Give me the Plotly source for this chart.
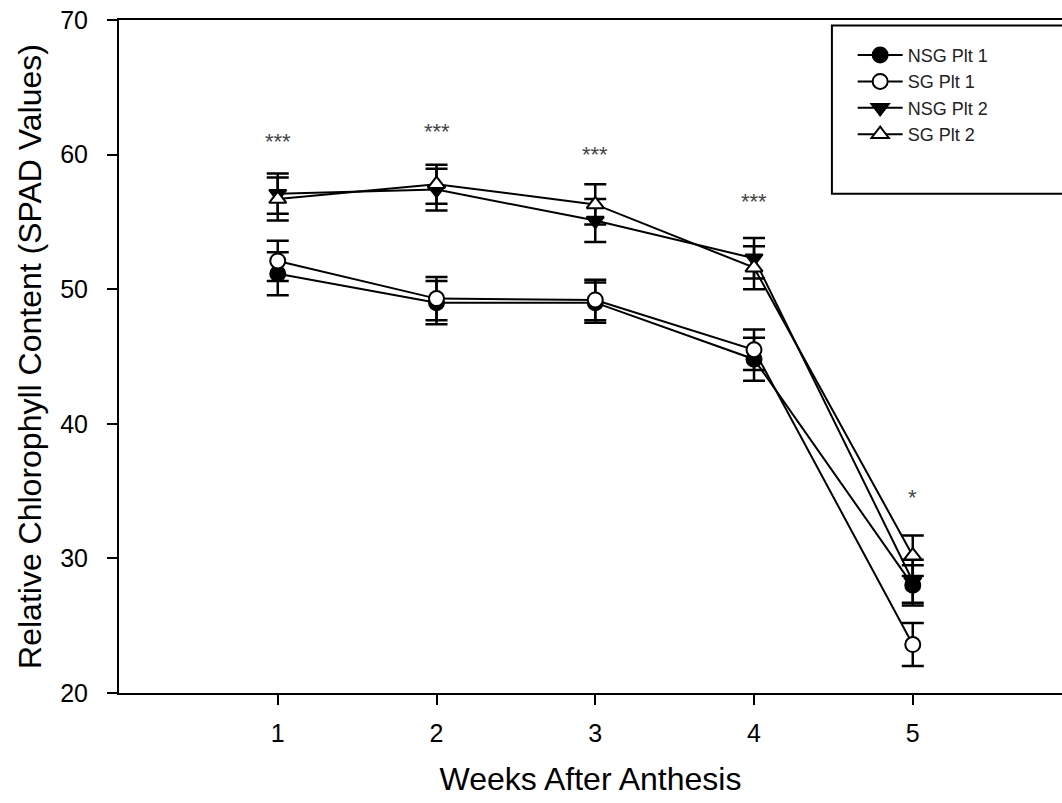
import plotly.graph_objects as go

# Weeks after anthesis
weeks = [1, 2, 3, 4, 5]

# Mean SPAD readings and standard errors per group
nsg_plt1 = [51.15, 49.0, 49.0, 44.8, 28.0]
nsg_plt1_err = [1.6, 1.6, 1.5, 1.6, 1.5]

sg_plt1 = [52.1, 49.3, 49.2, 45.5, 23.6]
sg_plt1_err = [1.5, 1.6, 1.5, 1.5, 1.6]

nsg_plt2 = [57.1, 57.4, 55.1, 52.3, 28.3]
nsg_plt2_err = [1.5, 1.55, 1.6, 1.5, 1.6]

sg_plt2 = [56.7, 57.8, 56.3, 51.6, 30.2]
sg_plt2_err = [1.6, 1.45, 1.5, 1.6, 1.5]

# Significance marks above each week
sig_labels = ["***", "***", "***", "***", "*"]
sig_y = [61.0, 61.7, 60.0, 56.5, 34.5]

FONT = "Liberation Sans, Arial, sans-serif"

series = [
    ("NSG Plt 1", nsg_plt1, nsg_plt1_err, "circle", "black"),
    ("SG Plt 1", sg_plt1, sg_plt1_err, "circle", "white"),
    ("NSG Plt 2", nsg_plt2, nsg_plt2_err, "triangle-down", "black"),
    ("SG Plt 2", sg_plt2, sg_plt2_err, "triangle-up", "white"),
]

fig = go.Figure()
for name, vals, errs, sym, fill in series:
    fig.add_trace(go.Scatter(
        x=weeks, y=vals, name=name, mode="lines+markers",
        line=dict(color="black", width=2),
        marker=dict(symbol=sym, size=15, color=fill,
                    line=dict(color="black", width=2)),
        error_y=dict(type="data", array=errs, visible=True,
                     color="black", thickness=2.5, width=11),
    ))

for wk, lab, yy in zip(weeks, sig_labels, sig_y):
    fig.add_annotation(x=wk, y=yy, text=lab, showarrow=False,
                       font=dict(family=FONT, size=22, color="#444444"))

# Legend frame
fig.add_shape(type="rect", xref="paper", yref="paper",
              x0=0.756, x1=1.05, y0=0.742, y1=0.992,
              line=dict(color="black", width=2), fillcolor="white",
              layer="below")

fig.update_layout(
    width=1062, height=803,
    margin=dict(l=119, r=0, t=20, b=110),
    paper_bgcolor="white", plot_bgcolor="white",
    font=dict(family=FONT, color="black"),
    showlegend=True,
    legend=dict(x=0.778, y=0.975, xanchor="left", yanchor="top",
                bgcolor="rgba(0,0,0,0)", borderwidth=0,
                itemwidth=45,
                font=dict(family=FONT, size=18, color="#222222"),
                itemsizing="trace"),
    xaxis=dict(range=[0, 5.94], tickvals=weeks, ticktext=[str(w) for w in weeks],
               showgrid=False, zeroline=False, showline=True, mirror=True,
               linecolor="black", linewidth=2, ticks="outside", ticklen=10,
               tickwidth=2, tickcolor="black", ticklabelstandoff=7,
               tickfont=dict(family=FONT, size=25),
               title=dict(text="Weeks After Anthesis", standoff=22,
                          font=dict(family=FONT, size=32))),
    yaxis=dict(range=[20, 70], tickvals=[20, 30, 40, 50, 60, 70],
               showgrid=False, zeroline=False, showline=True,
               linecolor="black", linewidth=2, ticks="outside", ticklen=10,
               tickwidth=2, tickcolor="black", ticklabelstandoff=14,
               tickfont=dict(family=FONT, size=25),
               title=dict(text="Relative Chlorophyll Content (SPAD Values)",
                          standoff=9, font=dict(family=FONT, size=32))),
)

fig.write_html("out.html")
